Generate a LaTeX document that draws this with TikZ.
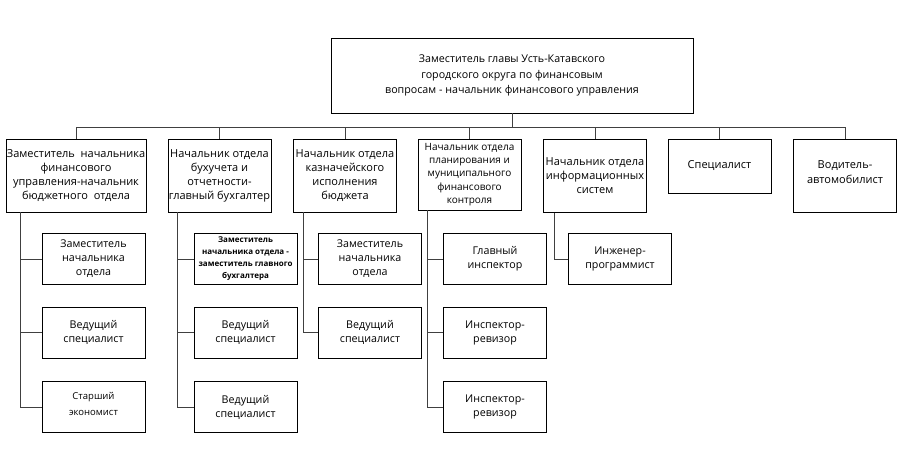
\documentclass[tikz,border=0pt]{standalone}
\usepackage{fontspec}
\setmainfont{Open Sans}
\usepackage{tikz}

\begin{document}
\begin{tikzpicture}[x=1pt,y=-1pt, every node/.style={draw,line width=0.8pt,align=center,inner sep=0.5pt,font=\fontsize{10.7}{14}\selectfont}, dep/.style={minimum width=103pt,minimum height=73pt,font=\fontsize{11}{14}\selectfont}, sub/.style={minimum width=103pt,minimum height=51pt}, ln/.style={line width=0.8pt,draw=black!75}]
\useasboundingbox (0,0) rectangle (916,453);
% head and departments
\node (head) at (512,75.5) [minimum width=362pt,minimum height=75pt,font=\fontsize{10.7}{15.5}\selectfont] {Заместитель главы Усть-Катавского\\городского округа по финансовым\\вопросам - начальник финансового управления};
\node (b1) at (76,175.5) [dep,minimum width=140pt] {Заместитель\ \ начальника\\финансового\\управления-начальник\\бюджетного\ \ отдела};
\node (b2) at (219.5,175.5) [dep] {Начальник отдела\\бухучета и\\отчетности-\\главный бухгалтер};
\node (b3) at (345,175.5) [dep] {Начальник отдела\\казначейского\\исполнения\\бюджета};
\node (b4) at (469.5,174.5) [dep,minimum height=71pt,font=\fontsize{10}{13.3}\selectfont] {Начальник отдела\\планирования и\\муниципального\\финансового\\контроля};
\node (b5) at (595,176) [dep] {Начальник отдела\\информационных\\систем};
\node (b6) at (719.5,166) [dep,minimum height=54pt] {Специалист};
\node (b7) at (845,175.5) [dep,font=\fontsize{11}{15}\selectfont] {Водитель-\\автомобилист\\[-8pt]};
% staff
\node (c11) at (93.5,259) [sub] {Заместитель\\начальника\\отдела};
\node (c12) at (93.5,332.5) [sub] {Ведущий\\специалист};
\node (c13) at (93.5,407) [sub,font=\fontsize{9.5}{16}\selectfont] {Старший\\экономист\\[-9pt]};
\node (c21) at (245.5,259) [sub,font=\fontsize{8}{12}\selectfont\bfseries] {Заместитель\\начальника отдела -\\заместитель главного\\бухгалтера};
\node (c22) at (245.5,332.5) [sub] {Ведущий\\специалист};
\node (c23) at (245.5,407) [sub] {Ведущий\\специалист};
\node (c31) at (370,259) [sub] {Заместитель\\начальника\\отдела};
\node (c32) at (370,332.5) [sub] {Ведущий\\специалист};
\node (c41) at (495,259) [sub] {Главный\\инспектор};
\node (c42) at (495,332.5) [sub] {Инспектор-\\ревизор};
\node (c43) at (495,407) [sub] {Инспектор-\\ревизор};
\node (c51) at (620,259) [sub] {Инженер-\\программист};
% connectors
\draw[ln] (head.south) -- ++(0,14) coordinate (bus);
\draw[ln] (b1.north) |- (bus); \draw[ln] (b2.north) |- (bus); \draw[ln] (b3.north) |- (bus); \draw[ln] (b4.north) |- (bus); \draw[ln] (b5.north) |- (bus); \draw[ln] (b6.north) |- (bus); \draw[ln] (b7.north) |- (bus);
\draw[ln] ([xshift=15]b1.south west) |- (c11.west); \draw[ln] ([xshift=15]b1.south west) |- (c12.west); \draw[ln] ([xshift=15]b1.south west) |- (c13.west);
\draw[ln] ([xshift=10]b2.south west) |- (c21.west); \draw[ln] ([xshift=10]b2.south west) |- (c22.west); \draw[ln] ([xshift=10]b2.south west) |- (c23.west);
\draw[ln] ([xshift=10]b3.south west) |- (c31.west); \draw[ln] ([xshift=10]b3.south west) |- (c32.west);
\draw[ln] ([xshift=10]b4.south west) |- (c41.west); \draw[ln] ([xshift=10]b4.south west) |- (c42.west); \draw[ln] ([xshift=10]b4.south west) |- (c43.west);
\draw[ln] ([xshift=11]b5.south west) |- (c51.west);
\end{tikzpicture}
\end{document}
